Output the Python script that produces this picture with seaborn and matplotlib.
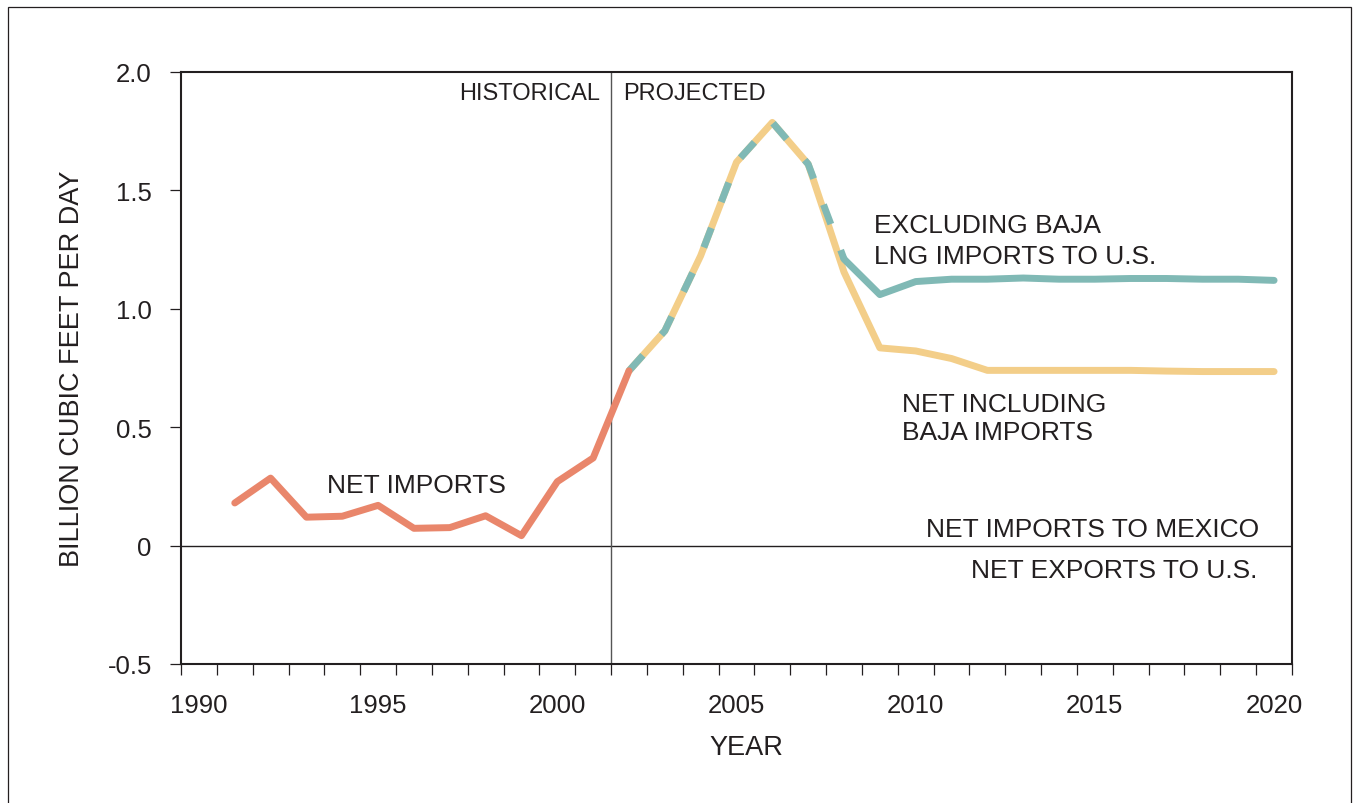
import numpy as np
import pandas as pd
import matplotlib
matplotlib.use("Agg")
import matplotlib.pyplot as plt
import seaborn as sns
from matplotlib.patches import Rectangle

# =========================
# DATA
# =========================
hist_years = [1991, 1992, 1993, 1994, 1995, 1996, 1997, 1998, 1999, 2000, 2001, 2002]
net_imports = [0.18, 0.285, 0.12, 0.124, 0.17, 0.073, 0.076, 0.126, 0.042, 0.27, 0.37, 0.738]

proj_years = [2002, 2003, 2004, 2005, 2006, 2007, 2008, 2009, 2010, 2011,
              2012, 2013, 2014, 2015, 2016, 2017, 2018, 2019, 2020]
net_incl_baja = [0.738, 0.907, 1.224, 1.619, 1.787, 1.611, 1.155, 0.835, 0.822, 0.79,
                 0.74, 0.74, 0.74, 0.74, 0.74, 0.737, 0.735, 0.735, 0.735]
excl_baja = [0.738, 0.907, 1.224, 1.619, 1.787, 1.611, 1.21, 1.06, 1.115, 1.125,
             1.125, 1.13, 1.125, 1.125, 1.128, 1.128, 1.125, 1.125, 1.12]

year_labels = [1990, 1995, 2000, 2005, 2010, 2015, 2020]
y_ticks = [-0.5, 0, 0.5, 1.0, 1.5, 2.0]
y_tick_labels = ["-0.5", "0", "0.5", "1.0", "1.5", "2.0"]

split_year = 2001.5  # historical / projected divider

hist_df = pd.DataFrame({"year": hist_years, "value": net_imports})
incl_df = pd.DataFrame({"year": proj_years, "value": net_incl_baja})
excl_df = pd.DataFrame({"year": proj_years, "value": excl_baja})
excl_dash = excl_df[excl_df["year"] <= 2008]
excl_solid = excl_df[excl_df["year"] >= 2008]

# =========================
# STYLE
# =========================
sns.set_theme(style="white")
plt.rcParams["font.family"] = ["Liberation Sans", "DejaVu Sans"]

ink = "#231f20"
salmon = "#e9866b"
yellow = "#f3ce89"
teal = "#80b9b5"

fig = plt.figure(figsize=(13.53, 8.04), dpi=100)
ax = fig.add_axes([181 / 1353, 139 / 804, 1111 / 1353, 592 / 804])

# =========================
# LINES
# =========================
lw = 5.0
sns.lineplot(data=incl_df, x="year", y="value", color=yellow, linewidth=lw, ax=ax)
sns.lineplot(data=excl_dash, x="year", y="value", color=teal, linewidth=lw,
             linestyle=(0, (3, 4)), ax=ax)
sns.lineplot(data=excl_solid, x="year", y="value", color=teal, linewidth=lw, ax=ax)
sns.lineplot(data=hist_df, x="year", y="value", color=salmon, linewidth=lw, ax=ax)

ax.axhline(0, color=ink, linewidth=1.0, zorder=1)
ax.axvline(split_year, color="#555555", linewidth=1.0, zorder=1)

# =========================
# AXES
# =========================
ax.set_xlim(1989.5, 2020.5)
ax.set_ylim(-0.5, 2.0)

ax.set_xticks(year_labels)
ax.set_xticklabels([str(y) for y in year_labels])
ax.set_xticks(np.arange(1989.5, 2021.0, 1.0), minor=True)
ax.tick_params(axis="x", which="major", length=0, pad=21, labelsize=18.5, labelcolor=ink)
ax.tick_params(axis="x", which="minor", bottom=True, direction="out", length=8,
               width=0.9, color=ink)

ax.set_yticks(y_ticks)
ax.set_yticklabels(y_tick_labels)
ax.tick_params(axis="y", which="major", left=True, direction="out", length=8,
               width=0.9, color=ink, pad=13, labelsize=18.5, labelcolor=ink)

for side in ["left", "right", "top", "bottom"]:
    ax.spines[side].set_visible(True)
    ax.spines[side].set_color(ink)
    ax.spines[side].set_linewidth(1.5)

ax.grid(False)
ax.set_xlabel("YEAR", fontsize=19.5, color=ink)
ax.set_ylabel("BILLION CUBIC FEET PER DAY", fontsize=19.5, color=ink)
ax.xaxis.set_label_coords(0.509, -0.118)
ax.yaxis.set_label_coords(-0.0864, 0.5)

# =========================
# ANNOTATIONS
# =========================
txt = dict(fontsize=19, color=ink, va="baseline")
ax.text(2001.2, 1.886, "HISTORICAL", ha="right", fontsize=17, color=ink, va="baseline")
ax.text(2001.84, 1.886, "PROJECTED", ha="left", fontsize=17, color=ink, va="baseline")
ax.text(1996.06, 0.225, "NET IMPORTS", ha="center", **txt)
ax.text(2008.83, 1.324, "EXCLUDING BAJA", ha="left", **txt)
ax.text(2008.83, 1.193, "LNG IMPORTS TO U.S.", ha="left", **txt)
ax.text(2009.62, 0.568, "NET INCLUDING", ha="left", **txt)
ax.text(2009.62, 0.450, "BAJA IMPORTS", ha="left", **txt)
ax.text(2019.57, 0.0405, "NET IMPORTS TO MEXICO", ha="right", **txt)
ax.text(2019.52, -0.134, "NET EXPORTS TO U.S.", ha="right", **txt)

# outer frame
fig.add_artist(Rectangle((8 / 1353, -0.02), (1351 - 8) / 1353, 1.0 - 8 / 804 + 0.02,
                         transform=fig.transFigure, fill=False,
                         edgecolor=ink, linewidth=0.9))

fig.savefig("out.png", dpi=100)
print("Saved out.png")
